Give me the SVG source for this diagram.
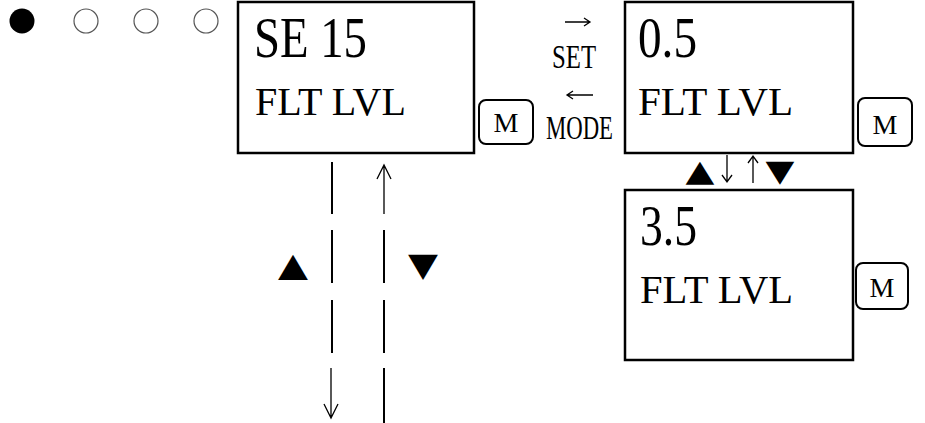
<svg xmlns="http://www.w3.org/2000/svg" width="925" height="423" viewBox="0 0 925 423">
<style>
.box{fill:#fff;stroke:#000;stroke-width:2.5}
.btn{fill:#fff;stroke:#000;stroke-width:2}
.t{font-family:"Liberation Serif","Times New Roman",serif;fill:#000}
.big{font-size:57px}
.mid{font-size:41px}
.m{font-size:28px;text-anchor:middle}
.lbl{font-size:33px}
.ln{stroke:#000;stroke-width:2;fill:none}
.thin{stroke:#000;stroke-width:1.3;fill:none}
.tri{font-family:"DejaVu Sans",sans-serif;font-size:30px;fill:#000;text-anchor:middle}
</style>
<g id="dots">
<circle cx="22" cy="21" r="12.5" fill="#000"/>
<circle cx="86" cy="21" r="12" fill="none" stroke="#555" stroke-width="1.2"/>
<circle cx="146" cy="21" r="12" fill="none" stroke="#555" stroke-width="1.2"/>
<circle cx="206" cy="21" r="12" fill="none" stroke="#555" stroke-width="1.2"/>
</g>
<g id="node-se15">
<rect class="box" x="238" y="2" width="236" height="151"/>
<text class="t big" x="254" y="57" textLength="113" lengthAdjust="spacingAndGlyphs">SE 15</text>
<text class="t mid" x="255" y="115" textLength="151" lengthAdjust="spacingAndGlyphs">FLT LVL</text>
</g>
<g id="btn-1">
<rect class="btn" x="479" y="100" width="54" height="44" rx="7"/>
<text class="t m" x="506" y="132">M</text>
</g>
<g id="node-05">
<rect class="box" x="625" y="2" width="228" height="151"/>
<text class="t big" x="638" y="57" textLength="59" lengthAdjust="spacingAndGlyphs">0.5</text>
<text class="t mid" x="638" y="115" textLength="155" lengthAdjust="spacingAndGlyphs">FLT LVL</text>
</g>
<g id="btn-2">
<rect class="btn" x="858" y="98" width="54" height="48" rx="7"/>
<text class="t m" x="885" y="134">M</text>
</g>
<g id="node-35">
<rect class="box" x="625" y="190" width="228" height="170"/>
<text class="t big" x="640" y="245" textLength="57" lengthAdjust="spacingAndGlyphs">3.5</text>
<text class="t mid" x="640" y="303" textLength="153" lengthAdjust="spacingAndGlyphs">FLT LVL</text>
</g>
<g id="btn-3">
<rect class="btn" x="856" y="263" width="52" height="46" rx="7"/>
<text class="t m" x="882" y="297">M</text>
</g>
<g id="labels">
<text class="t lbl" x="552" y="68" textLength="44" lengthAdjust="spacingAndGlyphs">SET</text>
<text class="t lbl" x="546" y="139" textLength="67" lengthAdjust="spacingAndGlyphs">MODE</text>
<text class="tri" transform="translate(293,276) scale(1.3,1.1)">▲</text>
<text class="tri" transform="translate(423,276) scale(1.3,1.1)">▼</text>
<text class="tri" transform="translate(700,181) scale(1.25,1.0)">▲</text>
<text class="tri" transform="translate(780,181) scale(1.25,1.0)">▼</text>
</g>
<g id="connectors">
<path class="thin" d="M565 22 H590 M584 18 L590 22 L584 26"/>
<path class="thin" d="M593 95 H567 M573 91 L567 95 L573 99"/>
<path class="thin" d="M727 155 V182 M722 175 L727 182 L732 175"/>
<path class="thin" d="M753 183 V156 M748 163 L753 156 L758 163"/>
<path class="ln" d="M332 162 V214 M332 230 V283 M332 300 V353"/>
<path class="thin" d="M331 368 V418 M324 404 L331 418 L338 404"/>
<path class="thin" d="M384 214 V165 M377 179 L384 165 L391 179"/>
<path class="ln" d="M384 230 V283 M384 300 V353 M384 368 V423"/>
</g>
</svg>
